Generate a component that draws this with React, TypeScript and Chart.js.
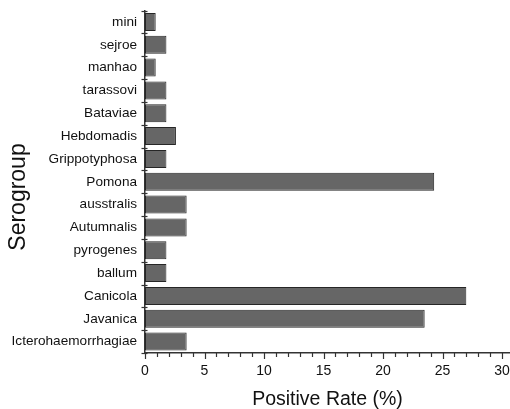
import React, { useEffect, useRef } from "react";
import { Chart, registerables } from "chart.js";

Chart.register(...registerables);

const categories = [
  "mini",
  "sejroe",
  "manhao",
  "tarassovi",
  "Bataviae",
  "Hebdomadis",
  "Grippotyphosa",
  "Pomona",
  "ausstralis",
  "Autumnalis",
  "pyrogenes",
  "ballum",
  "Canicola",
  "Javanica",
  "Icterohaemorrhagiae",
];

const positiveRate = [0.9, 1.8, 0.9, 1.8, 1.8, 2.6, 1.8, 24.3, 3.5, 3.5, 1.8, 1.8, 27, 23.5, 3.5];

const xMajorTicks = [0, 5, 10, 15, 20, 25, 30];
const xAxisTitle = "Positive Rate (%)";
const yAxisTitle = "Serogroup";

const FONT = '"Liberation Sans", Arial, Helvetica, sans-serif';

const tickPlugin = {
  id: "customTicks",
  afterDraw(chart: any) {
    const ctx = chart.ctx;
    const x = chart.scales.x;
    const y = chart.scales.y;
    const area = chart.chartArea;
    ctx.save();
    ctx.strokeStyle = "#333";
    ctx.lineWidth = 1.2;
    // x ticks: minor every 1, major every 5
    for (let v = 0; v <= 30; v++) {
      const px = Math.round(x.getPixelForValue(v)) + 0.5;
      const major = xMajorTicks.includes(v);
      ctx.beginPath();
      ctx.moveTo(px, area.bottom - 1);
      ctx.lineTo(px, area.bottom + (major ? 6 : 4));
      ctx.stroke();
    }
    // y ticks at category boundaries, crossing the axis
    for (let i = 0; i <= categories.length; i++) {
      const py = Math.round(y.getPixelForValue(i - 0.5)) + 0.5;
      ctx.beginPath();
      ctx.moveTo(area.left - 3.5, py);
      ctx.lineTo(area.left + 2.5, py);
      ctx.stroke();
    }
    // y axis title
    ctx.fillStyle = "#111";
    ctx.font = `23px ${FONT}`;
    ctx.textAlign = "center";
    ctx.textBaseline = "middle";
    ctx.translate(19, 197);
    ctx.rotate(-Math.PI / 2);
    ctx.fillText(yAxisTitle, 0, 0);
    ctx.restore();
  },
};

export default function App() {
  const canvasRef = useRef<HTMLCanvasElement | null>(null);

  useEffect(() => {
    if (!canvasRef.current) return;
    Chart.defaults.font.family = FONT;
    const chart = new Chart(canvasRef.current, {
      type: "bar",
      data: {
        labels: categories,
        datasets: [
          {
            data: positiveRate,
            backgroundColor: "#666666",
            borderColor: "#262626",
            borderWidth: 1,
            borderSkipped: false,
            barPercentage: 0.79,
            categoryPercentage: 1,
          },
        ],
      },
      options: {
        indexAxis: "y",
        animation: false,
        responsive: false,
        devicePixelRatio: 1,
        layout: { padding: { top: 10.5, right: 0, left: 0, bottom: 0 } },
        plugins: {
          legend: { display: false },
          tooltip: { enabled: false },
        },
        scales: {
          x: {
            type: "linear",
            min: 0,
            max: 30.67,
            grid: { display: false, drawTicks: false },
            border: { display: true, color: "#333", width: 1.5 },
            ticks: {
              stepSize: 1,
              autoSkip: false,
              includeBounds: false,
              maxRotation: 0,
              padding: 10,
              color: "#111",
              font: { size: 14 },
              callback: (v: any) => (xMajorTicks.includes(Number(v)) ? String(v) : ""),
            },
            title: {
              display: true,
              text: xAxisTitle,
              color: "#111",
              font: { size: 19.5, lineHeight: 1 },
              padding: 0,
            },
            afterFit: (scale: any) => {
              scale.height = 56;
              scale.paddingLeft = 0;
              scale.paddingRight = 0;
            },
          },
          y: {
            type: "category",
            grid: { display: false, drawTicks: false },
            border: { display: true, color: "#333", width: 1.5 },
            ticks: {
              autoSkip: false,
              padding: 8,
              color: "#111",
              font: { size: 13.6 },
            },
            afterFit: (scale: any) => {
              scale.width = 145;
              scale.paddingTop = 0;
              scale.paddingBottom = 0;
            },
          },
        },
      },
      plugins: [tickPlugin],
    } as any);
    return () => chart.destroy();
  }, []);

  return (
    <div style={{ position: "fixed", left: 0, top: 0, width: 510, height: 409, background: "#fff" }}>
      <canvas ref={canvasRef} width={510} height={409} style={{ display: "block" }} />
    </div>
  );
}
